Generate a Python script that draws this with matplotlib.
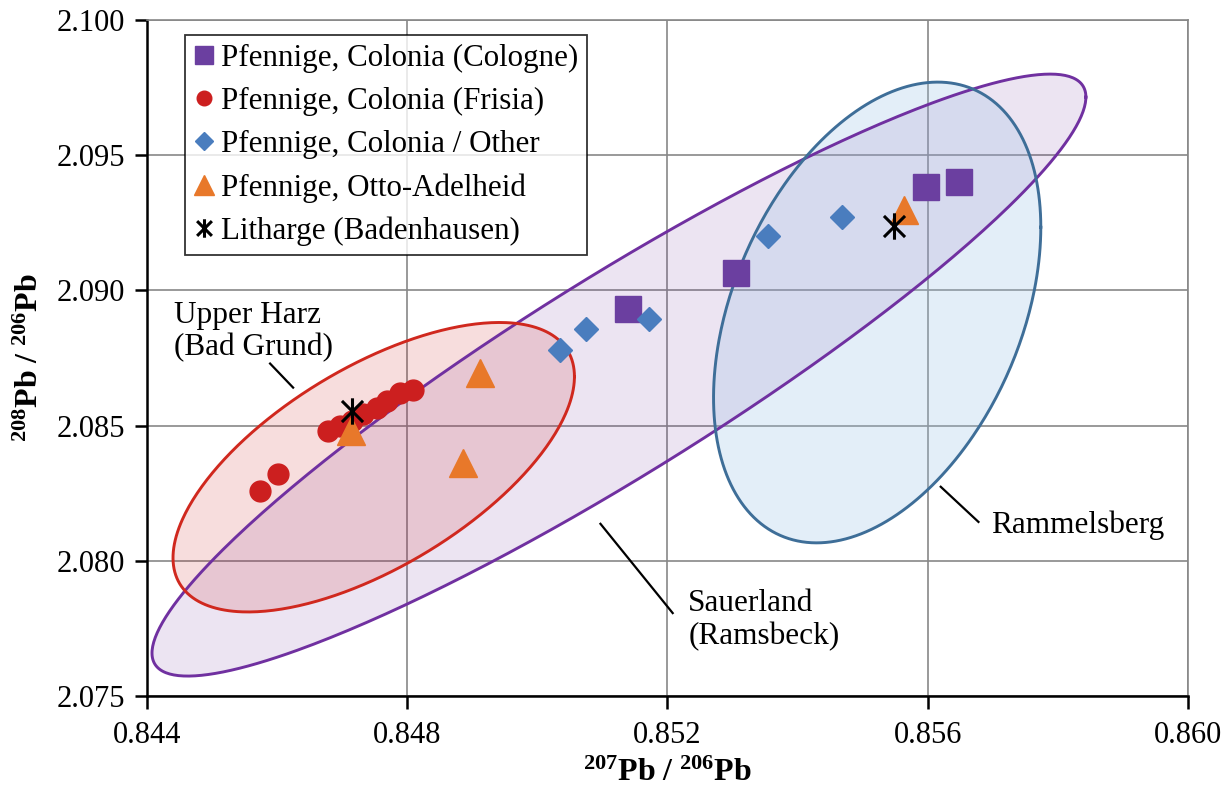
import numpy as np
import matplotlib
matplotlib.use("Agg")
import matplotlib.pyplot as plt
from matplotlib.path import Path

plt.rcParams['font.family'] = ['Liberation Serif', 'DejaVu Serif']
plt.rcParams['mathtext.fontset'] = 'custom'
plt.rcParams['mathtext.rm'] = 'Liberation Serif'
plt.rcParams['mathtext.bf'] = 'Liberation Serif:bold'
plt.rcParams['mathtext.it'] = 'Liberation Serif:italic'

# --- lead isotope ratios (207Pb/206Pb, 208Pb/206Pb) ---
cologne_x = [0.85140, 0.85305, 0.85597, 0.85648]
cologne_y = [2.08933, 2.09063, 2.09381, 2.09400]

frisia_x = [0.84574, 0.84602, 0.84678, 0.84697, 0.84715, 0.84732, 0.84754, 0.84769, 0.84789, 0.84809]
frisia_y = [2.08259, 2.08322, 2.08481, 2.08500, 2.08519, 2.08544, 2.08567, 2.08593, 2.08619, 2.08630]

other_x = [0.85035, 0.85074, 0.85171, 0.85354, 0.85469]
other_y = [2.08778, 2.08856, 2.08896, 2.09200, 2.09270]

otto_x = [0.84713, 0.84886, 0.84912, 0.85563]
otto_y = [2.08480, 2.08363, 2.08696, 2.09296]

litharge_x = [0.84715, 0.85548]
litharge_y = [2.08556, 2.09237]

# ore field ellipses: centre, half-extent in x and y, correlation
ore_fields = {
    'Sauerland': dict(cx=0.851254, cy=2.086870, sx=0.007177, sy=0.011130, rho=0.9235),
    'Upper Harz': dict(cx=0.847485, cy=2.083463, sx=0.003085, sy=0.005352, rho=0.626),
    'Rammelsberg': dict(cx=0.855223, cy=2.089185, sx=0.002515, sy=0.008519, rho=0.37),
}

x_ticks = [0.844, 0.848, 0.852, 0.856, 0.860]
y_ticks = [2.075, 2.080, 2.085, 2.090, 2.095, 2.100]

fig = plt.figure(figsize=(12.28, 7.91), dpi=100)
ax = fig.add_axes([0.1197, 0.12, 0.8477, 0.8547])

ax.set_xlim(0.844, 0.860)
ax.set_ylim(2.075, 2.100)
ax.set_xticks(x_ticks)
ax.set_yticks(y_ticks)
ax.set_xticklabels([f"{v:.3f}" for v in x_ticks])
ax.set_yticklabels([f"{v:.3f}" for v in y_ticks])
ax.tick_params(labelsize=22, direction='out', length=9, width=1.8, color='black', pad=7)
ax.tick_params(axis='x', pad=9)
ax.grid(True, color='#878787', linewidth=1.2, zorder=0)
ax.set_axisbelow(True)
for side in ('left', 'bottom'):
    ax.spines[side].set_color('black')
    ax.spines[side].set_linewidth(1.8)
for side in ('top', 'right'):
    ax.spines[side].set_color('#878787')
    ax.spines[side].set_linewidth(1.2)


def ellipse_xy(cx, cy, sx, sy, rho, n=400):
    t = np.linspace(0, 2 * np.pi, n)
    x = cx + sx * np.cos(t)
    y = cy + sy * (rho * np.cos(t) + np.sqrt(1 - rho ** 2) * np.sin(t))
    return x, y


styles = {
    'Sauerland': dict(face='#7030A0', alpha=0.13, edge='#7030A0'),
    'Upper Harz': dict(face='#CC2020', alpha=0.15, edge='#D0281E'),
    'Rammelsberg': dict(face='#9DC3E6', alpha=0.28, edge='#3E6E98'),
}
for name in ('Sauerland', 'Upper Harz', 'Rammelsberg'):
    ex, ey = ellipse_xy(**ore_fields[name])
    st = styles[name]
    ax.fill(ex, ey, color=st['face'], alpha=st['alpha'], lw=0, zorder=1)
for name in ('Sauerland', 'Upper Harz', 'Rammelsberg'):
    ex, ey = ellipse_xy(**ore_fields[name])
    ax.plot(ex, ey, color=styles[name]['edge'], lw=2.1, zorder=2)

# asterisk marker: vertical bar plus an X
ast = Path([(0, -1), (0, 1), (-0.8, -0.8), (0.8, 0.8), (-0.8, 0.8), (0.8, -0.8)],
           [Path.MOVETO, Path.LINETO, Path.MOVETO, Path.LINETO, Path.MOVETO, Path.LINETO])

ax.plot(cologne_x, cologne_y, ls='none', marker='s', ms=19, color='#6B3FA0',
        label='Pfennige, Colonia (Cologne)', zorder=5)
ax.plot(frisia_x, frisia_y, ls='none', marker='o', ms=15, color='#CC1F1F',
        label='Pfennige, Colonia (Frisia)', zorder=5)
ax.plot(other_x, other_y, ls='none', marker='D', ms=12.5, color='#4A7DBE',
        label='Pfennige, Colonia / Other', zorder=5)
ax.plot(otto_x, otto_y, ls='none', marker='^', ms=20, color='#E8782A',
        label='Pfennige, Otto-Adelheid', zorder=5)
ax.plot(litharge_x, litharge_y, ls='none', marker=ast, ms=19, mew=2.2, color='black',
        label='Litharge (Badenhausen)', zorder=6)

leg = ax.legend(loc='upper left', bbox_to_anchor=(0.0365, 0.978), borderaxespad=0,
                fontsize=22.3, frameon=True, fancybox=False, edgecolor='black',
                handlelength=0.65, handletextpad=0.2, labelspacing=0.45,
                borderpad=0.3, markerscale=0.7)
leg.get_frame().set_linewidth(1.3)
leg.set_zorder(10)

# ore field labels with leader lines
ax.text(0.84442, 2.08848, 'Upper Harz\n(Bad Grund)', fontsize=22.5, ha='left', va='center',
        linespacing=1.15, zorder=7)
ax.plot([0.845892, 0.846246], [2.087296, 2.086407], color='black', lw=1.6, zorder=7)

ax.text(0.85232, 2.07781, 'Sauerland\n(Ramsbeck)', fontsize=22.5, ha='left', va='center',
        linespacing=1.15, zorder=7)
ax.plot([0.85097, 0.85208], [2.08137, 2.07807], color='black', lw=1.6, zorder=7)

ax.text(0.85697, 2.08130, 'Rammelsberg', fontsize=22.5, ha='left', va='center', zorder=7)
ax.plot([0.85620, 0.85678], [2.08274, 2.08144], color='black', lw=1.6, zorder=7)

ax.set_xlabel(r'$\mathbf{^{207}Pb\ /\ ^{206}Pb}$', fontsize=23, labelpad=6)
ax.set_ylabel(r'$\mathbf{^{208}Pb\ /\ ^{206}Pb}$', fontsize=23, labelpad=8)

fig.savefig('out.png', dpi=100, facecolor='white')
